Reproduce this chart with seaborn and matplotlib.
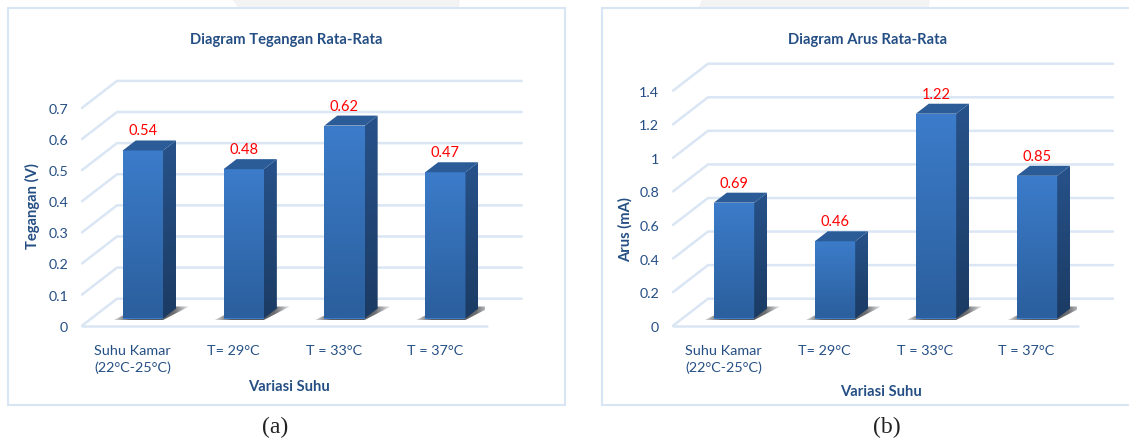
import numpy as np
import pandas as pd
import matplotlib
matplotlib.use("Agg")
import matplotlib.pyplot as plt
from matplotlib.patches import Polygon, Rectangle
from matplotlib.colors import LinearSegmentedColormap
from matplotlib.transforms import Affine2D
import seaborn as sns

categories = ["Suhu Kamar\n(22°C-25°C)", "T= 29°C", "T = 33°C", "T = 37°C"]
tegangan = [0.54, 0.48, 0.62, 0.47]
arus = [0.69, 0.46, 1.22, 0.85]
ticks_a = [0, 0.1, 0.2, 0.3, 0.4, 0.5, 0.6, 0.7]
ticks_b = [0, 0.2, 0.4, 0.6, 0.8, 1.0, 1.2, 1.4]
labels_b = ["0", "0.2", "0.4", "0.6", "0.8", "1", "1.2", "1.4"]
labels_a = ["0", "0.1", "0.2", "0.3", "0.4", "0.5", "0.6", "0.7"]

W, H = 1129, 439
NAVY = "#254f84"
FRAME = "#d8e5f4"
GRID = "#dae6f4"

sns.set_theme(style="white")
plt.rcParams["font.family"] = ["Lato", "DejaVu Sans"]

fig = plt.figure(figsize=(W / 100, H / 100), dpi=100, facecolor="white")
page = fig.add_axes([0, 0, 1, 1], zorder=0)
page.set_xlim(0, W)
page.set_ylim(H, 0)
page.axis("off")

# faint page decorations and the two chart frames
page.add_patch(Polygon([[232, 0], [460, 0], [459, 8], [238, 8]], closed=True,
                       fc="#f3f3f3", ec="none"))
page.add_patch(Polygon([[702, 0], [930, 0], [929, 8], [699, 8]], closed=True,
                       fc="#f3f3f3", ec="none"))
page.add_patch(Rectangle((7.5, 9), 557, 397, fc="white", ec=FRAME, lw=1.5))
page.add_patch(Rectangle((601.5, 9), 540, 397, fc="white", ec=FRAME, lw=1.5, clip_on=True))

front_cmap = LinearSegmentedColormap.from_list("front", ["#2b5f9d", "#3c7cca"])
side_cmap = LinearSegmentedColormap.from_list("side", ["#1b3b63", "#27528a"])
shadow_cmap = LinearSegmentedColormap.from_list(
    "shadow", ["#d8d9da", "#5c5e61", "#55575a", "#55575a", "#6d6f72", "#eef0f2"])


def draw_panel(left, right, top_px, values, ticks, ticklabels, title, ylabel, title_x,
               xlabel_x, xlabel_y, ylabel_x, ylabel_y, caption, caption_x, grid_extra):
    bottom_px = 326.7
    ax = fig.add_axes([left / W, 1 - bottom_px / H, (right - left) / W, (bottom_px - 60) / H],
                      zorder=1)
    ax.patch.set_alpha(0)
    frame = pd.DataFrame({"kategori": categories, "nilai": values})
    sns.barplot(data=frame, x="kategori", y="nilai", ax=ax, width=0.4, color="#3c7cca",
                saturation=1, errorbar=None, zorder=3)
    ax.set_xlim(-0.5, 3.5)
    per_px = ticks[-1] / (bottom_px - top_px)
    ymax = (bottom_px - 60) * per_px
    ax.set_ylim(0, ymax)

    xpx = (right - left) / 4
    shift = Affine2D().translate(10.5, 7.2)
    plane = ax.transData + shift
    depth_x, depth_y = 13 / xpx, 10 * per_px

    # receding wall: each gridline runs back from the axis, then along the wall
    back_x, back_y = 35 / xpx, 27 * per_px
    end = 3.5 + grid_extra / xpx
    for t in ticks:
        ax.plot([-0.5, -0.5 + back_x, end + back_x], [t, t + back_y, t + back_y],
                color=GRID, lw=1.8, clip_on=False, zorder=1, solid_joinstyle="miter")
    ax.plot([-0.5, end], [0, 0], color=GRID, lw=1.8, clip_on=False, zorder=1)

    grad = np.linspace(0, 1, 128).reshape(-1, 1)
    for bar, value in zip(ax.patches, values):
        x0, x1 = bar.get_x(), bar.get_x() + bar.get_width()
        bar.set_transform(plane)
        bar.set_edgecolor("none")
        bar.set_clip_on(False)

        # floor shadow, fading out at both tips
        shadow = Polygon([[x0 - 9 / xpx, -1.5 * per_px], [x1, -1.5 * per_px],
                          [x1 + 26 / xpx, depth_y + 2 * per_px],
                          [x1 + 13 / xpx, depth_y + 2 * per_px],
                          [x0, 3 * per_px]], closed=True, fc="none", ec="none", transform=plane)
        ax.add_patch(shadow)
        im0 = ax.imshow(np.linspace(0, 1, 64).reshape(1, -1), cmap=shadow_cmap, aspect="auto",
                        extent=[x0 - 9 / xpx, x1 + 26 / xpx, -1.5 * per_px, depth_y + 2 * per_px],
                        zorder=2, transform=plane)
        im0.set_clip_path(shadow)

        # front face
        im = ax.imshow(grad, cmap=front_cmap, origin="lower", aspect="auto",
                       extent=[x0, x1, 0, value], zorder=4, transform=plane)
        im.set_clip_path(bar)

        # side face
        side = Polygon([[x1, 0], [x1 + depth_x, depth_y], [x1 + depth_x, value + depth_y],
                        [x1, value]], closed=True, fc="none", ec="none", transform=plane)
        ax.add_patch(side)
        im2 = ax.imshow(grad, cmap=side_cmap, origin="lower", aspect="auto",
                        extent=[x1, x1 + depth_x, 0, value + depth_y], zorder=4, transform=plane)
        im2.set_clip_path(side)

        # top face
        ax.add_patch(Polygon([[x0, value], [x1, value], [x1 + depth_x, value + depth_y],
                              [x0 + depth_x, value + depth_y]], closed=True, fc="#2b5c97",
                             ec="none", transform=plane, zorder=4, clip_on=False))

        ax.annotate(f"{value:.2f}", ((x0 + x1) / 2, value), xycoords=plane,
                    xytext=(0, 20), textcoords="offset pixels", ha="center", va="center",
                    color="#ff0000", fontsize=10.5, zorder=5, annotation_clip=False)

    ax.set_xlim(-0.5, 3.5)
    ax.set_ylim(0, ymax)
    sns.despine(ax=ax, left=True, bottom=True, top=True, right=True)
    ax.set_yticks(ticks, ticklabels)
    ax.tick_params(axis="y", length=0, pad=10, labelsize=10.3, labelcolor=NAVY)
    ax.tick_params(axis="x", length=0, pad=13, labelsize=10.4, labelcolor=NAVY)
    for label in ax.get_xticklabels():
        label.set_linespacing(1.45)
    for label in ax.get_yticklabels():
        label.set_verticalalignment("center_baseline")
    ax.set_xlabel("")
    ax.set_ylabel("")

    page.text(title_x, 40, title, ha="center", va="center", fontsize=10.6,
              fontweight="bold", color=NAVY)
    page.text(xlabel_x, xlabel_y, "Variasi Suhu", ha="center", va="center", fontsize=10.6,
              fontweight="bold", color=NAVY)
    page.text(ylabel_x, ylabel_y, ylabel, ha="center", va="center", rotation=90,
              fontsize=10.6, fontweight="bold", color=NAVY)
    page.text(caption_x, 427, caption, ha="center", va="center", fontsize=17,
              family="Liberation Serif", color="#222222")


draw_panel(82, 485.2, 108.9, tegangan, ticks_a, labels_a, "Diagram Tegangan Rata-Rata",
           "Tegangan (V)", 286, 289, 387, 32, 206, "(a)", 275, 1.5)
draw_panel(673, 1077, 91.7, arus, ticks_b, labels_b, "Diagram Arus Rata-Rata",
           "Arus (mA)", 868, 881, 392, 625, 230, "(b)", 887, 1)

fig.savefig("out.png", dpi=100)
